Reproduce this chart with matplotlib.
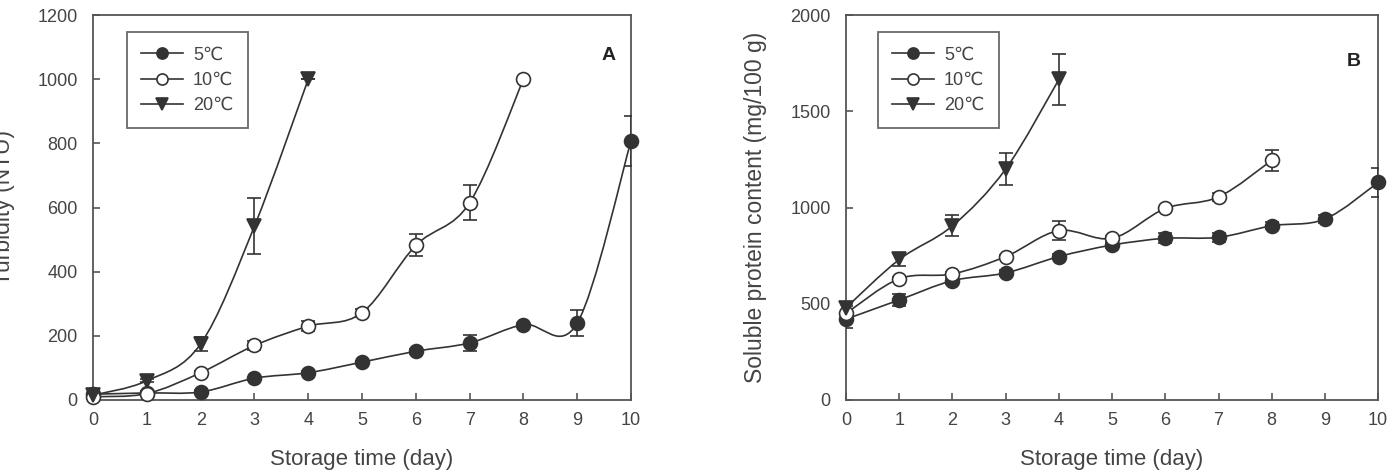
import matplotlib
matplotlib.use('Agg')
import matplotlib.pyplot as plt
from matplotlib.path import Path
from matplotlib.patches import PathPatch
from matplotlib.lines import Line2D

plt.rcParams['font.family'] = ['Liberation Sans', 'DejaVu Sans']

# panel A - turbidity
days_a5 = [0, 1, 2, 3, 4, 5, 6, 7, 8, 9, 10]
turb_5 = [18, 22, 25, 68, 85, 118, 152, 178, 235, 240, 808]
turb_5_err = [5, 5, 5, 5, 5, 5, 8, 25, 5, 40, 78]
days_a10 = [0, 1, 2, 3, 4, 5, 6, 7, 8]
turb_10 = [10, 20, 85, 170, 230, 272, 482, 615, 1000]
turb_10_err = [3, 3, 5, 15, 15, 13, 34, 55, 0]
days_a20 = [0, 1, 2, 3, 4]
turb_20 = [15, 60, 175, 542, 1000]
turb_20_err = [3, 5, 22, 88, 0]

# panel B - soluble protein
days_b5 = [0, 1, 2, 3, 4, 5, 6, 7, 8, 9, 10]
prot_5 = [420, 520, 620, 660, 745, 805, 840, 845, 905, 940, 1130]
prot_5_err = [45, 30, 15, 15, 15, 15, 25, 22, 18, 20, 75]
days_b10 = [0, 1, 2, 3, 4, 5, 6, 7, 8]
prot_10 = [450, 630, 655, 745, 880, 840, 995, 1055, 1245]
prot_10_err = [10, 10, 10, 10, 48, 10, 10, 20, 55]
days_b20 = [0, 1, 2, 3, 4]
prot_20 = [480, 730, 905, 1200, 1665]
prot_20_err = [10, 32, 55, 85, 135]

labels = ['5\u2103', '10\u2103', '20\u2103']
ink = '#333333'
txt = '#444444'


def smooth_path(x, y):
    # catmull-rom segments as cubic bezier
    verts = [(x[0], y[0])]
    codes = [Path.MOVETO]
    n = len(x)
    for i in range(n - 1):
        x0, y0 = (x[i - 1], y[i - 1]) if i > 0 else (x[i], y[i])
        x3, y3 = (x[i + 2], y[i + 2]) if i + 2 < n else (x[i + 1], y[i + 1])
        c1 = (x[i] + (x[i + 1] - x0) / 6, y[i] + (y[i + 1] - y0) / 6)
        c2 = (x[i + 1] - (x3 - x[i]) / 6, y[i + 1] - (y3 - y[i]) / 6)
        verts += [c1, c2, (x[i + 1], y[i + 1])]
        codes += [Path.CURVE4] * 3
    return Path(verts, codes)


def draw_panel(ax, series, ymax, ystep, ylabel, letter, lab_x, leg_x, let_xy):
    styles = [dict(marker='o', mfc=ink), dict(marker='o', mfc='white'), dict(marker='v', mfc=ink)]
    for (x, y, e), st in zip(series, styles):
        ax.add_patch(PathPatch(smooth_path(x, y), fill=False, ec=ink, lw=1.2, zorder=2))
        ax.errorbar(x, y, yerr=e, fmt='none', ecolor=ink, elinewidth=1.2, capsize=5, capthick=1.2, zorder=3)
        ax.plot(x, y, ls='none', marker=st['marker'], ms=10, mfc=st['mfc'], mec=ink, mew=1.2, zorder=4,
                clip_on=False)
    ax.set_xlim(0, 10)
    ax.set_ylim(0, ymax)
    ax.set_xticks(range(11))
    ax.set_yticks(range(0, ymax + 1, ystep))
    ax.tick_params(direction='in', length=5, width=1.2, colors='#555555', labelcolor=txt, labelsize=13)
    ax.tick_params(axis='y', pad=11)
    ax.tick_params(axis='x', pad=9)
    for s in ax.spines.values():
        s.set_color('#555555')
        s.set_linewidth(1.3)
    ax.set_xlabel('Storage time (day)', fontsize=16, color=txt)
    ax.xaxis.set_label_coords(0.5, -0.128)
    ax.set_ylabel(ylabel, fontsize=16.5, color=txt)
    ax.yaxis.set_label_coords(lab_x, 0.5)
    ax.text(let_xy[0], let_xy[1], letter, transform=ax.transAxes, fontsize=14, fontweight='bold',
            color='#222222', ha='center', va='center')
    handles = [Line2D([], [], color=ink, lw=1.2, marker=st['marker'], ms=8, mfc=st['mfc'], mec=ink, mew=1.2)
               for st in styles]
    leg = ax.legend(handles, labels, loc='upper left', bbox_to_anchor=(leg_x, 0.955), fontsize=13,
                    frameon=True, fancybox=False, edgecolor='#444444', handlelength=2.3, labelspacing=0.45,
                    borderpad=0.8, handletextpad=0.55, borderaxespad=0, labelcolor=txt)
    leg.get_frame().set_linewidth(1.3)


fig = plt.figure(figsize=(13.87, 4.75), dpi=100)
ax1 = fig.add_axes([0.0671, 0.1579, 0.3879, 0.8105])
ax2 = fig.add_axes([0.6100, 0.1579, 0.3836, 0.8105])

draw_panel(ax1, [(days_a5, turb_5, turb_5_err), (days_a10, turb_10, turb_10_err),
                 (days_a20, turb_20, turb_20_err)], 1200, 200, 'Turbidity (NTU)', 'A',
           -0.145, 0.063, (0.959, 0.894))
draw_panel(ax2, [(days_b5, prot_5, prot_5_err), (days_b10, prot_10, prot_10_err),
                 (days_b20, prot_20, prot_20_err)], 2000, 500, 'Soluble protein content (mg/100 g)', 'B',
           -0.148, 0.06, (0.955, 0.878))

fig.savefig('out.png', dpi=100)
